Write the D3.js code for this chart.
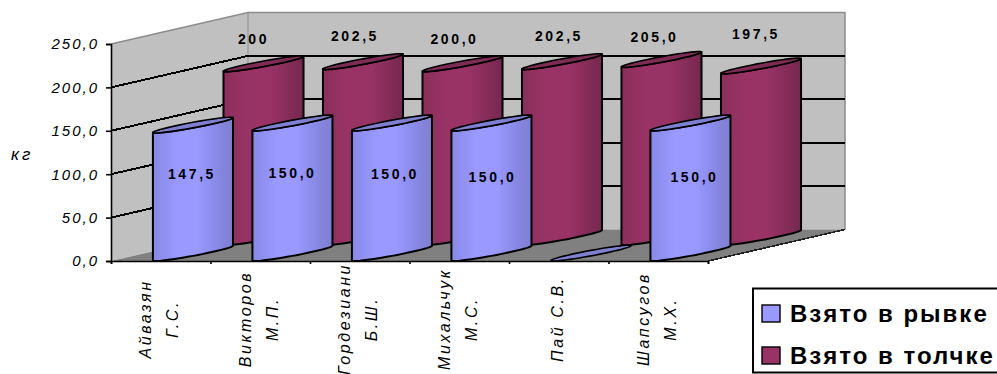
<!DOCTYPE html>
<html lang="ru">
<head>
<meta charset="utf-8">
<title>Взято в рывке и толчке</title>
<script src="https://cdn.jsdelivr.net/npm/d3@7/dist/d3.min.js"></script>
<style>
  html, body { margin: 0; padding: 0; background: #fff; overflow: hidden; }
  svg { display: block; }
  text { font-family: "Liberation Sans", Arial, sans-serif; fill: #000; }
</style>
</head>
<body>
<svg id="chart" width="997" height="374"></svg>
<script>
// Attempt results per lifter, in kilograms.
const athleteLines = [
  ["Айвазян", "Г.С."],
  ["Викторов", "М.П."],
  ["Гордезиани", "Б.Ш."],
  ["Михальчук", "М.С."],
  ["Пай  С.В."],
  ["Шапсугов", "М.Х."]
];
const snatchValues = [147.5, 150, 150, 150, 0, 150];
const cleanJerkValues = [200, 202.5, 200, 202.5, 205, 197.5];
const snatchLabels = ["147,5", "150,0", "150,0", "150,0", "", "150,0"];
const cleanJerkLabels = ["200", "202,5", "200,0", "202,5", "205,0", "197,5"];
const yTicks = [0, 50, 100, 150, 200, 250];
const seriesNames = ["Взято в рывке", "Взято в толчке"];

// Hand-placed label offsets, as the data labels sit slightly off their columns.
const snatchNudge = [[-3, -2], [-2, -1], [1, 0], [-1, 3], [0, 0], [2, 3]];
const cleanJerkNudge = [[-10, 0], [-8, -1], [-8, 0], [-3, -1], [-7, 2], [-5, -8]];

const svg = d3.select("#chart");

// Oblique projection: the front plane is scaled, depth shifts up and to the right.
const front = { left: 111, right: 708, top: 44, bottom: 261 };
const depth = { x: 137, y: 31.5 };
const colWidth = 28;

const x = d3.scaleBand().domain(d3.range(athleteLines.length)).range([front.left, front.right]);
const y = d3.scaleLinear().domain([0, 250]).range([front.bottom, front.top]);

const defs = svg.append("defs");
function banded(id, stops) {
  const g = defs.append("linearGradient").attr("id", id);
  stops.forEach(([o, c]) => g.append("stop").attr("offset", o).attr("stop-color", c));
}
banded("blueBody", [[0, "#8888e6"], [0.12, "#8f8ff0"], [0.3, "#9999ff"], [0.55, "#9999ff"], [0.72, "#8e8ef0"], [0.88, "#8484dc"], [1, "#7f7fd4"]]);
banded("wineBody", [[0, "#8a2f5c"], [0.14, "#923160"], [0.32, "#993366"], [0.58, "#993366"], [0.76, "#8a2e5c"], [0.9, "#7e2a54"], [1, "#752750"]]);

const poly = pts => "M" + pts.map(p => p.join(",")).join("L") + "Z";
const back = (px, py) => [px + depth.x, py - depth.y];

// Walls and floor
const wallTop = y(250), wallBase = y(0);
svg.append("path").attr("d", poly([[front.left, wallTop], back(front.left, wallTop), back(front.left, wallBase), [front.left, wallBase]])).attr("fill", "#c0c0c0");
svg.append("path").attr("d", poly([back(front.left, wallTop), back(front.right, wallTop), back(front.right, wallBase), back(front.left, wallBase)])).attr("fill", "#c0c0c0");
svg.append("path").attr("d", poly([[front.left, wallBase], back(front.left, wallBase), back(front.right, wallBase), [front.right, wallBase]])).attr("fill", "#808080");

// Wall outline in grey
const outline = d3.line();
svg.append("path")
  .attr("d", outline([[front.left, wallTop], back(front.left, wallTop), back(front.right, wallTop), back(front.right, wallBase)]))
  .attr("fill", "none").attr("stroke", "#8c8c8c").attr("stroke-width", 1.5);
svg.append("path")
  .attr("d", outline([back(front.left, wallTop), back(front.left, wallBase)]))
  .attr("fill", "none").attr("stroke", "#8c8c8c").attr("stroke-width", 1);

// Gridlines run along the left wall and across the back wall
yTicks.slice(1, -1).forEach(v => {
  svg.append("path")
    .attr("d", outline([[front.left, y(v)], back(front.left, y(v)), back(front.right, y(v))]))
    .attr("fill", "none").attr("stroke", "#000").attr("stroke-width", 2)
    .attr("shape-rendering", "crispEdges");
});

// Floor's right edge
svg.append("path")
  .attr("d", outline([[front.right, wallBase], back(front.right, wallBase)]))
  .attr("fill", "none").attr("stroke", "#222").attr("stroke-width", 1.6)
  .attr("shape-rendering", "crispEdges");

// Cylinder columns: a sheared ellipse extruded vertically
function drawColumn(g, i, value, depthFrac, bodyFill, capFill) {
  const cx = x(i) + x.bandwidth() / 2 + depth.x * depthFrac;
  const baseY = wallBase - depth.y * 0.5 * (depthFrac > 0.5 ? 1.5 : 0.5);
  const a = colWidth / 2, bx = 37.5, by = depth.y / 4;
  const h = wallBase - y(value);
  const t0 = Math.atan2(bx, a);
  const pt = (t, lift) => [cx + a * Math.cos(t) + bx * Math.sin(t), baseY - by * Math.sin(t) - lift];
  const frontArc = d3.range(0, 25).map(k => t0 + Math.PI + Math.PI * k / 24);
  const ring = d3.range(0, 49).map(k => Math.PI * 2 * k / 48);
  const line = d3.line();
  if (h > 0) {
    const body = frontArc.map(t => pt(t, 0)).concat(frontArc.slice().reverse().map(t => pt(t, h)));
    g.append("path").attr("d", line(body) + "Z")
      .attr("fill", bodyFill).attr("stroke", "#000").attr("stroke-width", 2).attr("stroke-linejoin", "round");
  }
  g.append("path").attr("d", line(ring.map(t => pt(t, h))) + "Z")
    .attr("fill", capFill).attr("stroke", "#000").attr("stroke-width", 1.6);
}

const wine = svg.append("g");
cleanJerkValues.forEach((v, i) => drawColumn(wine, i, v, 0.75, "url(#wineBody)", "#7e2c56"));
const blue = svg.append("g");
snatchValues.forEach((v, i) => drawColumn(blue, i, v, 0.235, "url(#blueBody)", "#8080d2"));

// Axes
const yAxis = d3.axisLeft(y).tickValues(yTicks).tickSize(5).tickPadding(7)
  .tickFormat(d => d3.format(".1f")(d).replace(".", ","));
const gy = svg.append("g").attr("transform", `translate(${front.left},0)`).call(yAxis);
gy.selectAll("path, line").attr("stroke", "#000").attr("stroke-width", 1.6);
gy.selectAll("text").attr("font-size", 15).attr("font-style", "italic").attr("letter-spacing", 2).attr("font-family", null);

const xEdge = d3.scaleLinear().domain([0, athleteLines.length]).range([front.left, front.right]);
const xAxis = d3.axisBottom(xEdge).tickValues(d3.range(athleteLines.length + 1)).tickSize(3).tickFormat("");
const gx = svg.append("g").attr("transform", `translate(0,${front.bottom})`).call(xAxis);
gx.selectAll("path, line").attr("stroke", "#000").attr("stroke-width", 1.6);

// Axis title
svg.append("text").attr("x", 11).attr("y", 160).attr("font-size", 17).attr("font-style", "italic")
  .attr("letter-spacing", 3).text("кг");

// Rotated two-line athlete names
const lineGap = 27;
athleteLines.forEach((lines, i) => {
  const cx = x(i) + x.bandwidth() / 2 - 2;
  lines.forEach((txt, k) => {
    const off = (k - (lines.length - 1) / 2) * lineGap;
    svg.append("text")
      .attr("transform", `translate(${cx + off + 6},319) rotate(-90)`)
      .attr("text-anchor", "middle")
      .attr("font-size", 16).attr("font-style", "italic").attr("letter-spacing", 2.6)
      .text(txt);
  });
});

// Data labels
snatchLabels.forEach((label, i) => {
  if (!label) return;
  svg.append("text")
    .attr("x", x(i) + x.bandwidth() / 2 + depth.x * 0.25 + snatchNudge[i][0])
    .attr("y", y(snatchValues[i]) + 48 + snatchNudge[i][1])
    .attr("text-anchor", "middle").attr("font-size", 14).attr("font-weight", "bold").attr("letter-spacing", 2.6)
    .text(label);
});
cleanJerkLabels.forEach((label, i) => {
  svg.append("text")
    .attr("x", x(i) + x.bandwidth() / 2 + depth.x * 0.75 + cleanJerkNudge[i][0])
    .attr("y", y(cleanJerkValues[i]) - 43 + cleanJerkNudge[i][1])
    .attr("text-anchor", "middle").attr("font-size", 14).attr("font-weight", "bold").attr("letter-spacing", 2.6)
    .text(label);
});

// Legend, running off the right edge of the page
const legend = svg.append("g");
legend.append("rect").attr("x", 753).attr("y", 288.5).attr("width", 260).attr("height", 84)
  .attr("fill", "#fff").attr("stroke", "#000").attr("stroke-width", 2);
const legendFills = ["#9999ff", "#993366"];
seriesNames.forEach((name, i) => {
  const rowY = 305 + i * 42;
  legend.append("rect").attr("x", 762).attr("y", rowY).attr("width", 18).attr("height", 17)
    .attr("fill", legendFills[i]).attr("stroke", "#000").attr("stroke-width", 1.4);
  legend.append("text").attr("x", 790).attr("y", rowY + 17)
    .attr("font-size", 24).attr("font-weight", "bold").attr("letter-spacing", 2)
    .text(name);
});
</script>
</body>
</html>
